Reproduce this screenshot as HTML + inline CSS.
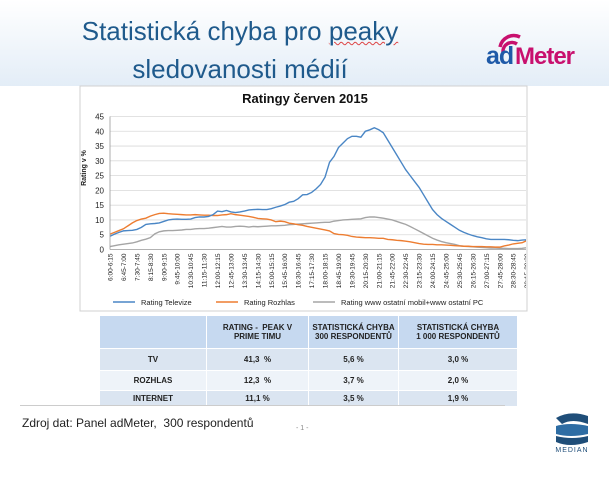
<!DOCTYPE html>
<html><head><meta charset="utf-8"><style>
body{margin:0;width:609px;height:500px;overflow:hidden;background:#fff;font-family:"Liberation Sans",sans-serif;position:relative}
.hdr{position:absolute;left:0;top:0;width:609px;height:86px;background:linear-gradient(#fff,#e3edf7)}
.title{position:absolute;left:40px;top:12px;width:400px;text-align:center;color:#1f5a8c;font-size:26px;line-height:38px}
table{position:absolute;left:100px;top:316px;border-collapse:collapse;font-size:8px;font-weight:bold;color:#222}
td{text-align:center;border-right:1px solid #fff;border-bottom:1px solid #fff;padding:0}
</style></head><body>
<div class="hdr"></div>
<div class="title">Statistická chyba pro <span style="text-decoration:underline wavy #d44;text-decoration-thickness:1px">peaky</span><br>sledovanosti médií</div>
<svg style="position:absolute;left:480px;top:25px" width="120" height="50">
<path d="M20 22 A14 14 0 0 1 40 12" stroke="#c8106e" stroke-width="3.5" fill="none"/>
<path d="M23 27 A9 9 0 0 1 37 19" stroke="#c8106e" stroke-width="3.5" fill="none"/>
<text x="6" y="39" font-size="25" font-weight="bold" fill="#1f5aa8" letter-spacing="-1">ad</text>
<text x="35" y="39" font-size="24" font-weight="bold" fill="#c8106e" letter-spacing="-1">Meter</text>
</svg>
<svg id="chart" style="position:absolute;left:0;top:0" width="609" height="320"></svg>
<table>
<tr style="height:32px;background:#c6d9f0"><td style="width:106px"></td><td style="width:101px">RATING -&nbsp; PEAK V<br>PRIME TIMU</td><td style="width:89px">STATISTICKÁ CHYBA<br>300 RESPONDENTŮ</td><td style="width:118px">STATISTICKÁ CHYBA<br>1 000 RESPONDENTŮ</td></tr>
<tr style="height:22px;background:#dbe5f1"><td>TV</td><td>41,3 &nbsp;%</td><td>5,6 %</td><td>3,0 %</td></tr>
<tr style="height:20px;background:#eef3f9"><td>ROZHLAS</td><td>12,3 &nbsp;%</td><td>3,7 %</td><td>2,0 %</td></tr>
<tr style="height:16px;background:#dbe5f1"><td>INTERNET</td><td>11,1 %</td><td>3,5 %</td><td>1,9 %</td></tr>
</table>
<div style="position:absolute;left:20px;top:405px;width:485px;height:1px;background:#ccc"></div>
<div style="position:absolute;left:22px;top:416px;font-size:12px;color:#222">Zdroj dat: Panel adMeter,&nbsp; 300 respondentů</div>
<div style="position:absolute;left:296px;top:425px;font-size:7px;color:#888">- 1 -</div>
<svg style="position:absolute;left:550px;top:410px" width="45" height="45">
<path d="M6 8 Q20 0 38 6 L38 14 Q22 8 12 14 Z" fill="#1f4e79"/>
<path d="M6 16 Q20 12 38 16 L38 24 Q20 28 6 24 Z" fill="#2e6da4"/>
<path d="M6 26 Q22 30 38 26 L38 32 Q20 38 6 32 Z" fill="#1f4e79"/>
<text x="22" y="42" font-size="7" fill="#1f4e79" text-anchor="middle" letter-spacing="1">MEDIAN</text>
</svg>
<script>
const tv=[4.5,5.2,5.8,6.3,6.4,6.5,6.8,7.5,8.5,8.7,8.8,9.0,9.5,10,10.2,10.3,10.2,10.2,10.3,10.8,11,11,11.2,11.8,13,12.8,13.2,12.7,12.5,12.7,13,13.4,13.5,13.6,13.5,13.5,13.8,14.3,14.7,15.2,16,16.3,17.2,18.5,18.6,19.3,20.5,22,24.5,29.5,31.5,34.5,36,37.5,38.3,38.3,38,40,40.5,41.2,40.5,39.5,37,34.5,32,29.5,27,25,23,21,18.5,16,13.5,11.8,10.5,9.5,8.5,7.5,6.5,5.8,5.2,4.7,4.3,4,3.6,3.4,3.4,3.4,3.4,3.3,3.1,3.0,3.2,3.3,3.3,3.3];
const radio=[5.2,5.8,6.4,7,8,9,9.8,10.3,10.6,11.3,11.8,12.2,12.3,12.1,12,11.9,11.8,11.7,11.7,11.8,11.7,11.6,11.6,11.5,11.5,11.7,11.8,12.1,11.8,11.6,11.4,11.2,10.9,10.5,10.4,10.3,10,9.4,9.6,9.4,8.9,8.7,8.4,8.2,7.8,7.5,7.2,6.9,6.6,6.3,5.4,5.1,5,4.8,4.4,4.2,4.1,4,4,3.9,3.8,3.8,3.4,3.3,3.1,3,2.8,2.6,2.3,2,1.8,1.7,1.7,1.6,1.6,1.5,1.4,1.3,1.2,1.1,1.1,1,1,1,0.9,0.9,0.8,0.8,1.2,1.5,1.9,2.1,2.3,3,3.2,3.3];
const web=[1,1.3,1.6,1.8,2,2.2,2.6,3.1,3.5,4,5.3,6,6.3,6.4,6.4,6.5,6.6,6.8,6.8,7,7.1,7.1,7.2,7.4,7.6,7.8,7.6,7.6,7.8,7.9,7.8,7.6,7.8,7.7,7.8,7.9,8,8,8.1,8.2,8.4,8.5,8.6,8.7,8.8,8.9,9,9.1,9.2,9.2,9.6,9.8,10,10.1,10.2,10.3,10.4,10.8,11,11,10.8,10.6,10.3,10,9.5,9,8.5,7.8,7,6.2,5.4,4.6,3.8,3.2,2.7,2.3,2,1.7,1.3,1.1,1,0.9,0.8,0.7,0.6,0.5,0.5,0.4,0.4,0.3,0.3,0.3,0.4,0.6,0.8,0.9];
const yTicks=[0,5,10,15,20,25,30,35,40,45];
const seriesNames=["Rating Televize","Rating Rozhlas","Rating www ostatní mobil+www ostatní PC"];
const seriesColors=["#4a86c5","#ed7d31","#a5a5a5"];
const categories=[];
for(let i=0;i<96;i++){const f=m=>Math.floor(m/60)+":"+String(m%60).padStart(2,"0");categories.push(f(360+15*i)+"-"+f(375+15*i));}

const NS="http://www.w3.org/2000/svg",svg=document.getElementById("chart");
function mk(t,a,p){const e=document.createElementNS(NS,t);for(const k in a)e.setAttribute(k,a[k]);(p||svg).appendChild(e);return e;}
const X0=110,STEP=4.48,Y0=249.5,YS=133/45;
const x=i=>X0+i*STEP, y=v=>Y0-v*YS;
const frame=mk("rect",{x:80,y:86,width:447,height:225,fill:"#fff",stroke:"#d0d0d0"});


const t=mk("text",{x:305,y:103,"font-size":13,"font-weight":"bold","text-anchor":"middle",fill:"#111"});t.textContent="Ratingy červen 2015";


mk("defs",{}).innerHTML='<clipPath id="c"><rect x="81" y="86" width="445" height="225"/></clipPath>';
const g=mk("g",{"clip-path":"url(#c)"});
yTicks.forEach(v=>{
 const l=mk("line",{x1:X0,x2:540,y1:y(v),y2:y(v),stroke:v?"#d9d9d9":"#999","stroke-width":0.8},g);
 
 
 const tx=mk("text",{x:X0-6,y:y(v)+3,"font-size":8,"text-anchor":"end",fill:"#222"});tx.textContent=v;
 
 
});
mk("line",{x1:X0,x2:X0,y1:y(45),y2:Y0,stroke:"#999","stroke-width":0.8});
const yl=mk("text",{transform:"translate(86,168) rotate(-90)","font-size":7,"font-weight":"bold","text-anchor":"middle",fill:"#222"});yl.textContent="Rating v %";


categories.forEach((c,i)=>{if(i%3)return;
 const tx=mk("text",{transform:`translate(${x(i)+2.5},${Y0+4}) rotate(-90)`,"font-size":6.5,"text-anchor":"end",fill:"#222"},g);tx.textContent=c;
 
 
});
[web,radio,tv].forEach((d,k)=>{const idx=2-k;
 const p=mk("polyline",{points:d.map((v,i)=>x(i)+","+y(v)).join(" "),fill:"none",stroke:seriesColors[idx],"stroke-width":1.4},g);
 
 
});
const lx=[113,216,313];
seriesNames.forEach((n,i)=>{
 const l=mk("line",{x1:lx[i],x2:lx[i]+22,y1:302,y2:302,stroke:seriesColors[i],"stroke-width":1.4});
 
 
 const tx=mk("text",{x:lx[i]+28,y:305,"font-size":7.5,fill:"#222"});tx.textContent=n;
 
 
});
</script>
</body></html>
